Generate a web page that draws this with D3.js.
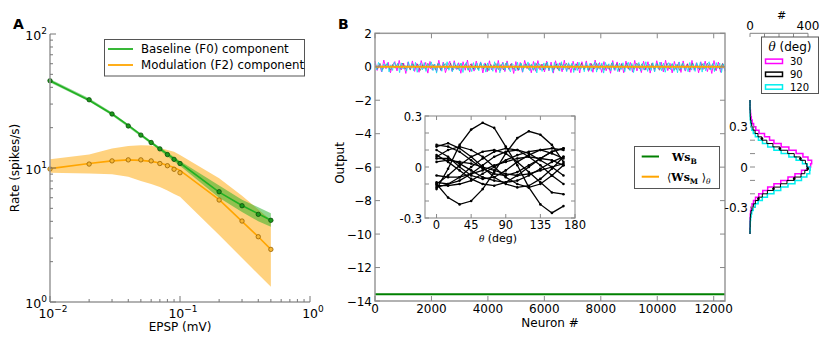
<!DOCTYPE html>
<html><head><meta charset="utf-8">
<script src="https://cdn.jsdelivr.net/npm/d3@7"></script>
<style>body{margin:0;background:#fff} text{font-family:"DejaVu Sans",sans-serif;fill:#000}</style>
</head><body><svg id="c" width="830" height="343"></svg>
<script>
// ---------- Panel A data ----------
const epsp   = [0.01,0.02,0.03,0.04,0.05,0.06,0.07,0.08,0.09,0.1,0.2,0.3,0.4,0.5];
const f0Rate = [44.8,32.3,25.3,20.6,17.6,15.5,13.9,12.6,11.6,10.8,6.65,5.23,4.51,4.07];
const f0Fit  = [44.8,32.0,25.3,20.8,17.7,15.5,13.9,12.7,11.7,10.9,6.6,5.25,4.55,4.07];
const f0Low  = [43.5,31.3,24.6,20.1,17.2,15.1,13.5,12.2,11.2,10.4,6.0,4.7,4.0,3.65];
const f0High = [46.2,33.2,26.0,21.2,18.1,15.9,14.3,13.1,12.1,11.3,7.4,5.8,5.1,4.6];
const f2Rate = [9.83,10.7,11.3,11.5,11.5,11.3,10.8,10.4,9.78,9.22,5.77,4.02,3.07,2.47];
const f2Fit  = [9.9,10.8,11.3,11.5,11.4,11.2,10.9,10.5,10.1,9.6,5.8,4.0,3.07,2.47];
const f2Low  = [9.2,9.1,8.97,8.6,8.0,7.6,7.2,6.8,6.4,6.1,3.16,2.13,1.61,1.3];
const f2High = [11.6,12.6,14.0,14.6,14.8,14.7,14.1,13.6,13.2,12.5,8.4,6.2,4.9,4.1];
const aTicks = [0.01,0.1,1];
const aTickExp = ["\u22122","\u22121","0"];
const aYTicks = [1,10,100];
const aYTickExp = ["0","1","2"];

// ---------- Panel B data ----------
const nNeurons = 12400;
const wsB = -13.6;
const wsM = 0.0;
const noise30 = [.34,-.22,.18,-.31,.4,-.12,.27,-.36,.09,.31,-.25,.38,-.18,.22,-.4,.29,-.15,.35,-.28,.2,
 -.33,.37,-.1,.26,-.38,.32,-.2,.15,-.3,.39,-.24,.28,-.35,.06,.33,-.27,.36,-.16,.24,-.39,
 .3,-.21,.4,-.32,.19,-.26,.34,-.13,.29,-.37,.23,-.3,.36,-.19,.13,-.34,.38,-.25,.27,-.29,
 .35,-.17,.21,-.4,.31,-.23,.26,-.33,.38,-.11,.2,-.36,.32,-.27,.37,-.2,.16,-.31,.34,-.24,
 .28,-.38,.36,-.14,.24,-.3,.39,-.26,.18,-.35,.33,-.21,.27,-.37,.3,-.16,.35,-.28,.22,-.33,
 .4,-.19,.25,-.34,.31,-.24,.14,-.39,.37,-.22,.29,-.3,.2,-.36,.34,-.13,.26,-.32,.38,-.25,
 .17,-.35,.33,-.2,.3,-.38,.23,-.27,.36,-.15,.28,-.31,.39,-.23,.21,-.37,.32,-.18,.27,-.34,
 .35,-.26,.19,-.32,.38,-.21,.24,-.36,.3,-.17,.34,-.29,.22,-.4,.37,-.24,.28,-.33,.18,-.27];
const noise90 = [.15,-.12,.2,-.18,.08,.17,-.21,.13,-.09,.19,-.16,.22,-.14,.1,-.2,.18,-.07,.16,-.22,.12,
 -.15,.21,-.11,.14,-.19,.2,-.17,.06,.18,-.13,.22,-.2,.11,-.16,.19,-.1,.15,-.21,.17,-.14,
 .09,-.18,.21,-.12,.16,-.22,.14,-.08,.2,-.17,.13,-.19,.22,-.11,.17,-.15,.07,-.2,.19,-.13,
 .18,-.16,.12,-.21,.2,-.1,.15,-.19,.22,-.14,.11,-.18,.16,-.22,.19,-.09,.21,-.15,.13,-.2,
 .17,-.12,.22,-.17,.1,-.21,.18,-.14,.2,-.11,.14,-.2,.12,-.16,.21,-.13,.19,-.22,.15,-.1,
 .2,-.19,.13,-.15,.22,-.12,.16,-.2,.09,-.17,.21,-.14,.18,-.21,.11,-.16,.2,-.13,.17,-.19,
 .14,-.22,.19,-.1,.16,-.18,.21,-.15,.12,-.2,.18,-.12,.22,-.17,.15,-.21,.1,-.14,.2,-.16];
const noise120 = [.21,-.18,.26,.05,-.29,.17,-.08,.24,-.31,.12,-.22,.28,-.05,.19,-.35,.23,-.14,.09,-.26,.3,
 -.11,.18,-.24,.27,-.33,.08,.22,-.19,.25,-.28,.14,-.06,.29,-.23,.16,-.38,.2,.11,-.27,.24,
 -.15,.3,-.21,.07,-.3,.26,-.12,.19,-.25,.22,-.34,.13,.27,-.2,.04,-.29,.25,-.17,.21,-.24,
 .28,-.09,.18,-.32,.23,-.22,.1,-.27,.3,-.16,.2,-.36,.15,.24,-.21,.26,-.13,-.3,.19,.08,
 -.25,.27,-.18,.22,-.31,.14,-.07,.29,-.24,.17,-.2,.25,-.37,.21,.06,-.28,.23,-.15,.28,-.22,
 .12,-.33,.26,-.1,.2,-.26,.3,-.19,.16,-.29,.24,-.05,.22,-.34,.18,-.23,.27,-.14,.09,-.3,
 .25,-.21,.19,-.27,.07,.29,-.32,.2,-.16,.23,-.38,.26,-.11,.18,-.25,.28,-.2,.13,-.29,.22,
 -.17,.24,-.3,.11,.27,-.23,.2,-.35,.16,-.08,.26,-.26,.21,-.19,.3,-.28,.15,-.22,.24,-.31,
 .19,-.12,.28,-.24,.22,-.33,.09,.25,-.18,.2,-.27,.17,-.36,.29,-.15,.23,-.21,.06,-.3,.26,
 -.2,.18,-.28,.24,-.13,.27,-.32,.21,-.24,.14,.3,-.19,.2,-.29,.25,-.1,.22,-.35,.17,-.23];
const bXTicks = [0,2000,4000,6000,8000,10000,12000];
const bYTicks = [2,0,-2,-4,-6,-8,-10,-12,-14];

// inset
const insetTheta = [0,15,30,45,60,75,90,105,120,135,150,165];
const insetCurves = [
 [-0.13,-0.01,0.13,0.22,0.26,0.23,0.12,0.01,-0.12,-0.22,-0.27,-0.23],
 [-0.10,-0.18,-0.22,-0.20,-0.13,-0.03,0.08,0.17,0.21,0.19,0.13,0.03],
 [0.12,0.14,0.11,0.06,0.0,-0.06,-0.10,-0.12,-0.11,-0.07,-0.01,0.06],
 [0.06,0.10,0.12,0.10,0.06,0.0,-0.06,-0.10,-0.12,-0.10,-0.05,0.01],
 [-0.12,-0.10,-0.06,0.0,0.05,0.09,0.11,0.10,0.06,0.01,-0.05,-0.10],
 [-0.09,-0.10,-0.08,-0.04,0.01,0.06,0.09,0.10,0.08,0.04,0.0,-0.05],
 [-0.05,-0.06,-0.06,-0.04,-0.02,0.01,0.03,0.05,0.06,0.05,0.04,0.01],
 [0.07,0.03,-0.02,-0.07,-0.10,-0.11,-0.09,-0.05,0.0,0.05,0.09,0.11],
 [0.05,0.05,0.02,-0.02,-0.06,-0.08,-0.09,-0.08,-0.05,-0.01,0.03,0.06],
 [0.03,0.04,0.03,0.02,0.0,-0.02,-0.04,-0.05,-0.04,-0.02,0.0,0.02],
 [-0.10,-0.05,0.01,0.06,0.09,0.10,0.08,0.03,-0.03,-0.09,-0.15,-0.16],
 [0.13,0.12,0.09,0.04,-0.01,-0.04,-0.05,-0.03,0.01,0.05,0.09,0.11],
 [0.10,0.06,0.0,-0.05,-0.07,-0.06,-0.02,0.03,0.07,0.10,0.11,0.10],
 [-0.11,-0.11,-0.10,-0.08,-0.04,0.0,0.04,0.07,0.09,0.10,0.08,0.05]
];
const insetXTicks = [0,45,90,135,180];
const insetYTicks = [-0.3,-0.2,-0.1,0,0.1,0.2,0.3];
const insetYLabels = [[0.3,"0.3"],[0,"0"],[-0.3,"-0.3"]];

// histogram
const binEdgesLo = -0.5, binWidth = 0.025;
const hist30  = [0,0,0,1,1,2,4,8,14,24,38,60,88,122,165,212,262,310,355,395,418,425,400,365,318,268,215,165,135,100,62,40,25,15,9,5,3,1,1,0];
const hist90  = [0,0,1,1,2,4,7,14,23,37,58,85,120,162,210,255,305,352,378,398,392,382,348,305,260,206,158,116,82,55,35,21,12,7,3,2,1,0,0,0];
const hist120 = [0,1,1,2,4,7,12,22,36,56,85,120,165,212,262,310,355,392,412,415,395,362,318,268,215,165,122,86,58,37,23,13,7,4,2,1,1,0,0,0];
const histLabels = ["30","90","120"];
const histXTicks = [0,100,200,300,400];

const cGreenA = "#22b022", cOrange = "#ffa500", cGreenB = "#008000";

const svg = d3.select("#c");

// ================= Panel A =================
const xA = d3.scaleLog().domain([0.01,1]).range([50,310]);
const yA = d3.scaleLog().domain([1,100]).range([302,34]);
const gA = svg.append("g");

const area = (lo,hi) => d3.area().x((d,i)=>xA(epsp[i])).y0((d,i)=>yA(lo[i])).y1((d,i)=>yA(hi[i]));
gA.append("path").datum(epsp).attr("d",area(f2Low,f2High)).attr("fill",cOrange).attr("fill-opacity",0.5);
gA.append("path").datum(epsp).attr("d",area(f0Low,f0High)).attr("fill",cGreenA).attr("fill-opacity",0.5);

const lineA = vals => d3.line().x((d,i)=>xA(epsp[i])).y((d,i)=>yA(vals[i]));
gA.append("path").datum(epsp).attr("d",lineA(f2Fit)).attr("fill","none").attr("stroke",cOrange).attr("stroke-width",1.6);
gA.append("path").datum(epsp).attr("d",lineA(f0Fit)).attr("fill","none").attr("stroke",cGreenA).attr("stroke-width",1.6);

gA.selectAll(".p2").data(epsp).join("circle").attr("cx",d=>xA(d)).attr("cy",(d,i)=>yA(f2Rate[i]))
  .attr("r",2.2).attr("fill","#f7b733").attr("stroke","#9a6200").attr("stroke-width",0.8);
gA.selectAll(".p0").data(epsp).join("circle").attr("cx",d=>xA(d)).attr("cy",(d,i)=>yA(f0Rate[i]))
  .attr("r",2.2).attr("fill","#1a9a1a").attr("stroke","#0a4a0a").attr("stroke-width",0.8);

// spines
gA.append("line").attr("x1",50).attr("x2",50).attr("y1",34).attr("y2",302).attr("stroke","#999").attr("stroke-width",1.5);
gA.append("line").attr("x1",50).attr("x2",310).attr("y1",302).attr("y2",302).attr("stroke","#999").attr("stroke-width",1.5);
// ticks
const minorVals = [];
[0.01,0.1,1,10].forEach(b=>{for(let k=2;k<=9;k++) minorVals.push(b*k);});
minorVals.filter(v=>v>1&&v<100).forEach(v=>{
  gA.append("line").attr("x1",50).attr("x2",53).attr("y1",yA(v)).attr("y2",yA(v)).attr("stroke","#777");
});
minorVals.filter(v=>v>0.01&&v<1).forEach(v=>{
  gA.append("line").attr("x1",xA(v)).attr("x2",xA(v)).attr("y1",302).attr("y2",299).attr("stroke","#777");
});
aYTicks.forEach((v,i)=>{
  gA.append("line").attr("x1",50).attr("x2",56).attr("y1",yA(v)).attr("y2",yA(v)).attr("stroke","#777");
  const t = gA.append("text").attr("x",47).attr("y",yA(v)+5.5).attr("text-anchor","end").style("font-size","12.5px");
  t.append("tspan").text("10");
  t.append("tspan").attr("dy",-6).style("font-size","9px").text(aYTickExp[i]);
});
aTicks.forEach((v,i)=>{
  gA.append("line").attr("x1",xA(v)).attr("x2",xA(v)).attr("y1",302).attr("y2",296).attr("stroke","#777");
  const t = gA.append("text").attr("x",xA(v)+3).attr("y",318).attr("text-anchor","middle").style("font-size","12.5px");
  t.append("tspan").text("10");
  t.append("tspan").attr("dy",-6).style("font-size","9px").text(aTickExp[i]);
});
gA.append("text").attr("x",180).attr("y",331).attr("text-anchor","middle").style("font-size","12px").text("EPSP (mV)");
gA.append("text").attr("transform","translate(19,168) rotate(-90)").attr("text-anchor","middle").style("font-size","12px").text("Rate (spikes/s)");
gA.append("text").attr("x",13).attr("y",28.5).style("font-size","14px").style("font-weight","bold").text("A");

// legend A
const legA = gA.append("g");
legA.append("rect").attr("x",104.5).attr("y",39.5).attr("width",200).attr("height",36.5).attr("fill","#fff").attr("stroke","#555").attr("stroke-width",1);
[["Baseline (F0) component",cGreenA,49],["Modulation (F2) component",cOrange,65]].forEach(([lab,col,yy])=>{
  legA.append("line").attr("x1",108).attr("x2",133).attr("y1",yy).attr("y2",yy).attr("stroke",col).attr("stroke-width",1.8);
  legA.append("text").attr("x",141).attr("y",yy+4.3).style("font-size","11.8px").text(lab);
});

// ================= Panel B =================
const xB = d3.scaleLinear().domain([0,nNeurons]).range([375,725]);
const yB = d3.scaleLinear().domain([-14,2]).range([301,33.3]);
const gB = svg.append("g");

const noiseLine = arr => d3.line().x((d,i)=>xB(i*nNeurons/(arr.length-1))).y(d=>yB(d));
gB.append("path").datum(noise30).attr("d",noiseLine(noise30)).attr("fill","none").attr("stroke","#ff00ff").attr("stroke-width",0.9);
gB.append("path").datum(noise90).attr("d",noiseLine(noise90)).attr("fill","none").attr("stroke","#555").attr("stroke-width",0.9).attr("stroke-opacity",0.7);
gB.append("path").datum(noise120).attr("d",noiseLine(noise120)).attr("fill","none").attr("stroke","#00e5ee").attr("stroke-width",0.9).attr("stroke-opacity",0.85);
gB.append("line").attr("x1",xB(0)).attr("x2",xB(nNeurons)).attr("y1",yB(wsM)).attr("y2",yB(wsM)).attr("stroke",cOrange).attr("stroke-width",2);
gB.append("line").attr("x1",xB(0)).attr("x2",xB(nNeurons)).attr("y1",yB(wsB)).attr("y2",yB(wsB)).attr("stroke",cGreenB).attr("stroke-width",2);

// frame & ticks
gB.append("rect").attr("x",375).attr("y",33.3).attr("width",350).attr("height",267.7).attr("fill","none").attr("stroke","#999").attr("stroke-width",1.5);
bXTicks.forEach(v=>{
  gB.append("line").attr("x1",xB(v)).attr("x2",xB(v)).attr("y1",301).attr("y2",296).attr("stroke","#888");
  gB.append("line").attr("x1",xB(v)).attr("x2",xB(v)).attr("y1",33.3).attr("y2",38.3).attr("stroke","#888");
  gB.append("text").attr("x",xB(v)).attr("y",312.5).attr("text-anchor","middle").style("font-size","12px").text(v);
});
bYTicks.forEach(v=>{
  gB.append("line").attr("x1",375).attr("x2",380).attr("y1",yB(v)).attr("y2",yB(v)).attr("stroke","#888");
  gB.append("line").attr("x1",725).attr("x2",720).attr("y1",yB(v)).attr("y2",yB(v)).attr("stroke","#888");
  gB.append("text").attr("x",372).attr("y",yB(v)+4.5).attr("text-anchor","end").style("font-size","12px").text(d3.format("d")(v));
});
gB.append("text").attr("x",550).attr("y",326.5).attr("text-anchor","middle").style("font-size","12px").text("Neuron #");
gB.append("text").attr("transform","translate(344,163) rotate(-90)").attr("text-anchor","middle").style("font-size","12px").text("Output");
gB.append("text").attr("x",338).attr("y",28.5).style("font-size","14px").style("font-weight","bold").text("B");

// legend B
const legB = gB.append("g");
legB.append("rect").attr("x",634.5).attr("y",146.5).attr("width",85).attr("height",42).attr("fill","#fff").attr("stroke","#555");
legB.append("line").attr("x1",641.7).attr("x2",659).attr("y1",156.5).attr("y2",156.5).attr("stroke",cGreenB).attr("stroke-width",2);
legB.append("line").attr("x1",641.7).attr("x2",659).attr("y1",176.7).attr("y2",176.7).attr("stroke",cOrange).attr("stroke-width",2);
const t1 = legB.append("text").attr("x",672).attr("y",161).style("font-family","DejaVu Serif").style("font-size","11px");
t1.append("tspan").style("font-weight","bold").text("Ws");
t1.append("tspan").attr("dy",3).style("font-size","7.5px").style("font-weight","bold").text("B");
const t2 = legB.append("text").attr("x",667).attr("y",181).style("font-family","DejaVu Serif").style("font-size","11px");
t2.append("tspan").text("\u27E8");
t2.append("tspan").style("font-weight","bold").text("Ws");
t2.append("tspan").attr("dy",3).style("font-size","7.5px").style("font-weight","bold").text("M");
t2.append("tspan").attr("dy",-3).text(" \u27E9");
t2.append("tspan").attr("dy",3).style("font-size","7.5px").style("font-style","italic").text("\u03B8");

// ================= Inset =================
const xI = d3.scaleLinear().domain([-15,180]).range([425,575]);
const yI = d3.scaleLinear().domain([-0.3,0.3]).range([218,116]);
const gI = svg.append("g");
gI.append("rect").attr("x",425).attr("y",116).attr("width",150).attr("height",102).attr("fill","#fff");
const lineI = d3.line().x((d,i)=>xI(insetTheta[i])).y(d=>yI(d));
insetCurves.forEach(c=>{
  gI.append("path").datum(c).attr("d",lineI).attr("fill","none").attr("stroke","#000").attr("stroke-width",1.3);
  gI.selectAll(null).data(c).join("circle").attr("cx",(d,i)=>xI(insetTheta[i])).attr("cy",d=>yI(d)).attr("r",1.3).attr("fill","#000");
});
gI.append("rect").attr("x",425).attr("y",116).attr("width",150).attr("height",102).attr("fill","none").attr("stroke","#999").attr("stroke-width",1.2);
insetXTicks.forEach(v=>{
  gI.append("line").attr("x1",xI(v)).attr("x2",xI(v)).attr("y1",218).attr("y2",214).attr("stroke","#888");
  gI.append("line").attr("x1",xI(v)).attr("x2",xI(v)).attr("y1",116).attr("y2",120).attr("stroke","#888");
  gI.append("text").attr("x",xI(v)).attr("y",228.5).attr("text-anchor","middle").style("font-size","11.5px").text(v);
});
insetYTicks.forEach(v=>{
  gI.append("line").attr("x1",425).attr("x2",429).attr("y1",yI(v)).attr("y2",yI(v)).attr("stroke","#888");
  gI.append("line").attr("x1",575).attr("x2",571).attr("y1",yI(v)).attr("y2",yI(v)).attr("stroke","#888");
});
insetYLabels.forEach(([v,l])=>{
  gI.append("text").attr("x",422).attr("y",yI(v)+4.5).attr("text-anchor","end").style("font-size","11.5px").text(l);
});
const ti = gI.append("text").attr("x",498).attr("y",241.5).attr("text-anchor","middle").style("font-size","11px");
ti.append("tspan").style("font-family","DejaVu Serif").style("font-style","italic").style("font-size","9px").text("\u03B8");
ti.append("tspan").text(" (deg)");

// ================= Histogram =================
const xH = d3.scaleLinear().domain([0,400]).range([750,808]);
const yH = d3.scaleLinear().domain([-1,1]).range([301,33]);
const gH = svg.append("g");
const stepPts = counts => {
  const pts = [[0,binEdgesLo]];
  counts.forEach((c,i)=>{ pts.push([c,binEdgesLo+i*binWidth]); pts.push([c,binEdgesLo+(i+1)*binWidth]); });
  pts.push([0,binEdgesLo+counts.length*binWidth]);
  return pts;
};
const lineH = d3.line().x(d=>xH(d[0])).y(d=>yH(d[1]));
gH.append("path").datum(stepPts(hist30)).attr("d",lineH).attr("fill","none").attr("stroke","#ff00ff").attr("stroke-width",1.5);
gH.append("path").datum(stepPts(hist120)).attr("d",lineH).attr("fill","none").attr("stroke","#00eeee").attr("stroke-width",1.5);
gH.append("path").datum(stepPts(hist90)).attr("d",lineH).attr("fill","none").attr("stroke","#000").attr("stroke-width",1);
hist90.forEach((c,i)=>{ if(i%3===1 && c>30) gH.append("circle").attr("cx",xH(c)).attr("cy",yH(binEdgesLo+(i+0.5)*binWidth)).attr("r",1.4).attr("fill","#000"); });
// ticks
[-0.3,-0.2,-0.1,0,0.1,0.2,0.3].forEach(v=>{
  gH.append("line").attr("x1",750).attr("x2",755).attr("y1",yH(v)).attr("y2",yH(v)).attr("stroke","#888");
});
[[0.3,"0.3"],[0,"0"],[-0.3,"-0.3"]].forEach(([v,l])=>{
  gH.append("text").attr("x",748).attr("y",yH(v)+4.5).attr("text-anchor","end").style("font-size","12px").text(l);
});
gH.append("line").attr("x1",750).attr("x2",808).attr("y1",33.3).attr("y2",33.3).attr("stroke","#999").attr("stroke-width",1.2);
histXTicks.forEach(v=>{
  gH.append("line").attr("x1",xH(v)).attr("x2",xH(v)).attr("y1",33.3).attr("y2",37).attr("stroke","#888");
});
[[0,"0"],[400,"400"]].forEach(([v,l])=>{
  gH.append("text").attr("x",xH(v)).attr("y",30).attr("text-anchor","middle").style("font-size","12px").text(l);
});
gH.append("text").attr("x",781.5).attr("y",18.5).attr("text-anchor","middle").style("font-size","11px").text("#");
// legend
const legH = gH.append("g");
legH.append("rect").attr("x",761.5).attr("y",37).attr("width",57).attr("height",56.5).attr("fill","#fff").attr("stroke","#555");
const th = legH.append("text").attr("x",790).attr("y",50.5).attr("text-anchor","middle").style("font-size","12px");
th.append("tspan").style("font-family","DejaVu Serif").style("font-style","italic").text("\u03B8");
th.append("tspan").text(" (deg)");
[["#ff00ff",61.3],["#000",74.3],["#00eeee",87]].forEach(([col,yy],i)=>{
  legH.append("rect").attr("x",765.5).attr("y",yy-2.2).attr("width",17).attr("height",4.4).attr("fill","#fff").attr("stroke",col).attr("stroke-width",1.5);
  legH.append("text").attr("x",790).attr("y",yy+3.5).style("font-size","10px").text(histLabels[i]);
});
</script></body></html>
